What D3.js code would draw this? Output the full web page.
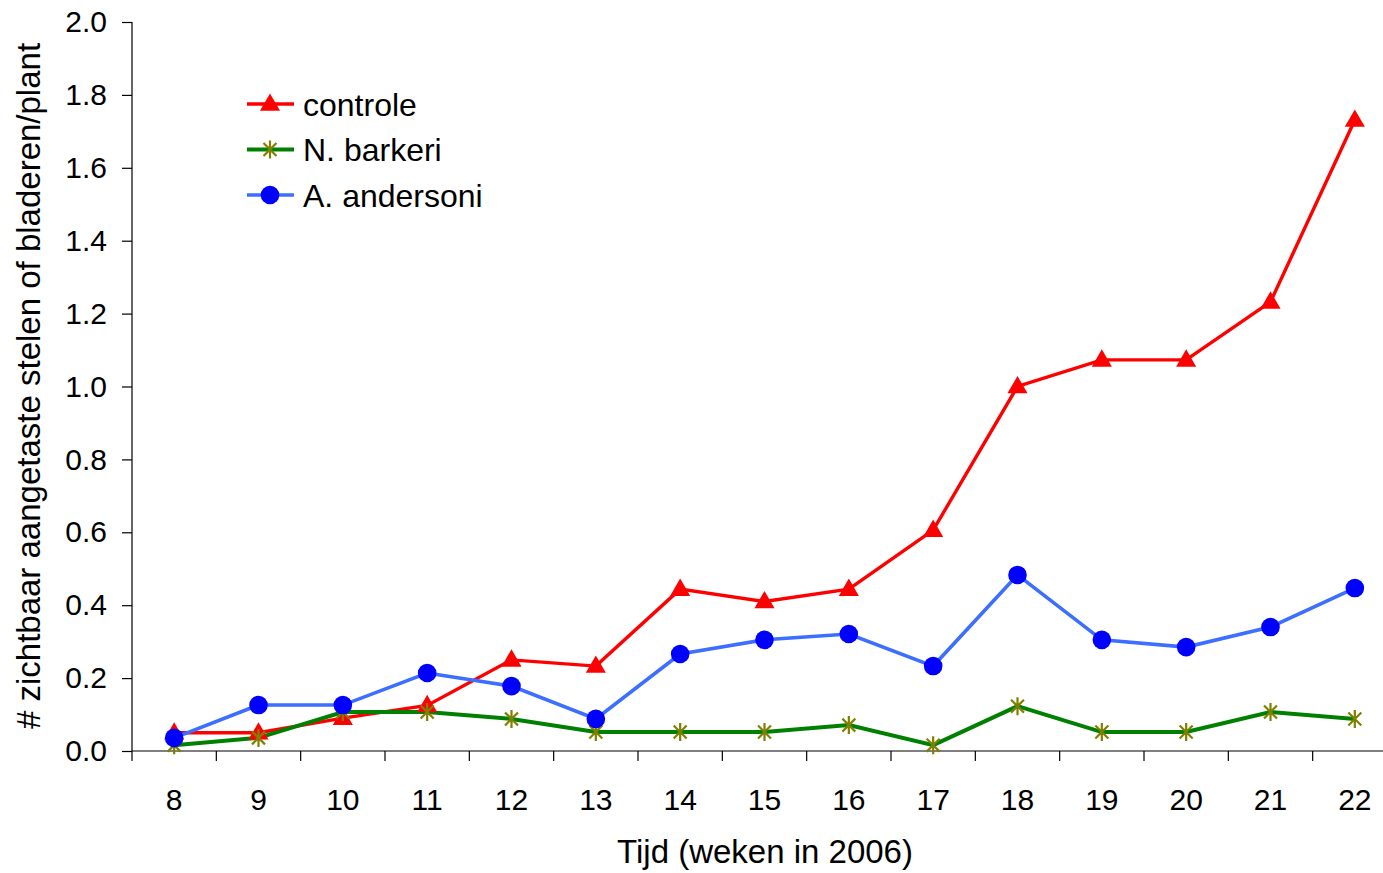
<!DOCTYPE html>
<html><head><meta charset="utf-8">
<script src="https://cdn.jsdelivr.net/npm/d3@7"></script>
<style>body{margin:0;background:#fff}svg{display:block}text{font-family:"Liberation Sans",Arial,sans-serif;fill:#000}</style>
</head><body>
<svg id="c" width="1383" height="873"></svg>
<script>
const weeks = ["8","9","10","11","12","13","14","15","16","17","18","19","20","21","22"];
const controle = [0.05,0.05,0.09,0.125,0.25,0.233,0.444,0.41,0.444,0.606,1.0,1.073,1.073,1.232,1.731];
const barkeri = [0.016,0.036,0.107,0.107,0.088,0.052,0.052,0.052,0.071,0.016,0.123,0.052,0.052,0.107,0.088];
const andersoni = [0.036,0.126,0.126,0.214,0.178,0.088,0.266,0.305,0.321,0.233,0.483,0.305,0.285,0.34,0.447];
const yTicks = [0,0.2,0.4,0.6,0.8,1.0,1.2,1.4,1.6,1.8,2.0];
const seriesNames = ["controle","N. barkeri","A. andersoni"];

const svg = d3.select("#c");
const L=132, R=1397, T=22, B=751;
const x = d3.scaleBand().domain(weeks).range([L,R]);
const y = d3.scaleLinear().domain([0,2]).range([B,T]);

// y axis
const ya = svg.append("g").attr("transform",`translate(${L},0)`)
  .call(d3.axisLeft(y).tickValues(yTicks).tickFormat(d3.format(".1f")).tickSize(10).tickPadding(15));
ya.selectAll("text").style("font-size","30px");
ya.selectAll("line,path").attr("stroke","#000").attr("stroke-width",1.2);
ya.select("path").attr("d",`M0,${T}V${B}`);

// x axis
const xa = svg.append("g").attr("transform",`translate(0,${B})`)
  .call(d3.axisBottom(x).tickSize(0).tickPadding(38));
xa.select("path").attr("d",`M${L},0H${R}`).attr("stroke","#000").attr("stroke-width",1.2);
xa.selectAll("text").style("font-size","30px");
const bounds = weeks.map(w=>x(w)).concat([R]);
svg.append("g").selectAll("line").data(bounds).join("line")
  .attr("x1",d=>d).attr("x2",d=>d).attr("y1",B).attr("y2",B+10).attr("stroke","#000").attr("stroke-width",1.2);

// titles
svg.append("text").attr("x",765).attr("y",863).attr("text-anchor","middle").style("font-size","33px").text("Tijd (weken in 2006)");
svg.append("text").attr("transform","translate(40,386) rotate(-90)").attr("text-anchor","middle").style("font-size","33px").text("# zichtbaar aangetaste stelen of bladeren/plant");

const cx = w => x(w)+x.bandwidth()/2;
const line = d3.line().x((d,i)=>cx(weeks[i])).y(d=>y(d));

const tri = d3.symbol().type(d3.symbolTriangle).size(175);
function drawTri(g,px,py){ g.append("path").attr("d",tri()).attr("transform",`translate(${px},${py+1})`).attr("fill","#ff0000"); }
function drawStar(g,px,py){
  const s=9, d=s*0.72;
  const p=`M${-d},${-d}L${d},${d}M${-d},${d}L${d},${-d}M0,${-s}V${s}`;
  g.append("path").attr("d",p).attr("transform",`translate(${px},${py})`).attr("stroke","#808000").attr("stroke-width",2.2).attr("fill","none");
}
function drawCirc(g,px,py){ g.append("circle").attr("cx",px).attr("cy",py).attr("r",9.3).attr("fill","#0000ff"); }

const series = [
  {name:seriesNames[0], vals:controle, color:"#ff0000", w:3.4, mk:drawTri},
  {name:seriesNames[1], vals:barkeri, color:"#008000", w:4, mk:drawStar},
  {name:seriesNames[2], vals:andersoni, color:"#3c6eff", w:3.6, mk:drawCirc},
];
const g = svg.append("g");
series.forEach(s=>{
  g.append("path").attr("d",line(s.vals)).attr("fill","none").attr("stroke",s.color).attr("stroke-width",s.w).attr("stroke-linejoin","miter");
});
series.forEach(s=>{
  s.vals.forEach((v,i)=>s.mk(g,cx(weeks[i]),y(v)));
});

// legend
const lg = svg.append("g");
series.forEach((s,i)=>{
  const ly = 104 + i*45.5;
  lg.append("line").attr("x1",247).attr("x2",294).attr("y1",ly).attr("y2",ly).attr("stroke",s.color).attr("stroke-width",s.w);
  s.mk(lg,270,ly);
  lg.append("text").attr("x",303).attr("y",ly+11.5).style("font-size","32px").text(s.name);
});
</script>
</body></html>
